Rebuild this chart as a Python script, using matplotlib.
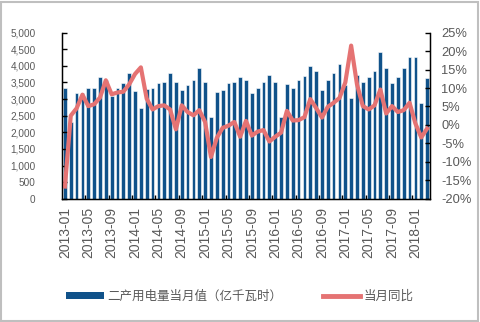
import matplotlib

matplotlib.use("Agg")
import matplotlib.pyplot as plt  # noqa: E402
import numpy as np  # noqa: E402
from matplotlib.lines import Line2D  # noqa: E402
from matplotlib.patches import Patch, Rectangle  # noqa: E402

plt.rcParams["font.family"] = ["Liberation Sans", "Noto Sans CJK SC", "DejaVu Sans"]

# ---- data ----
months = [f"{y}-{m:02d}" for y in range(2013, 2019) for m in range(1, 13)][:63]

usage = [  # 二产用电量当月值 (亿千瓦时)
    3320, 2300, 3180, 3180, 3320, 3320, 3680, 3580, 3090, 3320, 3480, 3800,
    3230, 2720, 3300, 3320, 3470, 3520, 3800, 3520, 3270, 3430, 3580, 3950,
    3530, 2460, 3220, 3270, 3480, 3530, 3680, 3580, 3180, 3320, 3530, 3730,
    3530, 2450, 3440, 3320, 3580, 3690, 4000, 3850, 3270, 3580, 3800, 4060,
    3420, 3020, 3740, 3530, 3680, 3850, 4410, 3950, 3480, 3680, 3950, 4260,
    4260, 2870, 3630,
]
yoy = [  # 当月同比 (%)
    -16.7, 2.5, 4.5, 8.2, 5.1, 5.6, 7.4, 12.1, 8.3, 8.8, 9.0, 11.0,
    13.8, 15.6, 7.1, 4.2, 5.1, 5.3, 4.2, -1.2, 5.3, 3.5, 2.6, 4.0,
    0.8, -8.7, -3.5, -0.8, -0.2, 0.8, -3.2, 1.1, -2.9, -1.8, -1.4, -4.5,
    -3.2, -2.1, 3.8, 1.2, 1.3, 2.1, 7.0, 4.6, 2.0, 4.9, 6.0, 7.3,
    11.5, 21.5, 11.0, 5.1, 4.2, 5.3, 9.6, 3.1, 5.1, 3.5, 4.0, 6.0,
    0.4, -3.4, -1.0,
]
bar_label = "二产用电量当月值（亿千瓦时）"
line_label = "当月同比"

BLUE = "#10528A"
RED = "#E57373"
GREY = "#595959"

W, H = 480, 322
fig = plt.figure(figsize=(W / 100, H / 100), dpi=100)
fig.patches.append(Rectangle((1 / W, 1 / H), 1 - 3 / W, 1 - 3 / H,
                             transform=fig.transFigure, fill=False,
                             edgecolor="#BFBFBF", lw=1.5))

ax = fig.add_axes([62 / W, 1 - 198.7 / H, (430 - 62) / W, (198.7 - 32.7) / H])
x = np.arange(len(months))
ax.bar(x, usage, width=0.64, color=BLUE, edgecolor="white", linewidth=0.4)
ax.set_xlim(-0.5, len(months) - 0.5)
ax.set_ylim(0, 5000)
ax.set_yticks(np.arange(0, 5001, 500))
ax.set_yticklabels([f"{v:,}" for v in range(0, 5001, 500)], fontsize=7.2, color=GREY)
ax.tick_params(axis="y", direction="in", length=3.5, width=1, pad=19)

ax.set_xticks(x[::4])
ax.set_xticklabels(months[::4], rotation=90, fontsize=10, color=GREY)
ax.set_xticks(x[::4][1:] - 0.5, minor=True)
ax.tick_params(axis="x", which="major", length=0, pad=6)
ax.tick_params(axis="x", which="minor", direction="in", length=3, width=1)
ax.spines["top"].set_visible(False)
for s in ("left", "bottom", "right"):
    ax.spines[s].set_linewidth(1)

ax2 = ax.twinx()
ax2.plot(x, yoy, color=RED, lw=3, solid_joinstyle="round")
ax2.set_ylim(-20, 25)
ax2.set_yticks(np.arange(-20, 26, 5))
ax2.set_yticklabels([f"{v}%" for v in range(-20, 26, 5)], fontsize=9.3, color=GREY)
ax2.tick_params(axis="y", direction="in", length=3.5, width=1, pad=8)
ax2.spines["top"].set_visible(False)

handles = [Patch(facecolor=BLUE, edgecolor="none"), Line2D([], [], color=RED, lw=3.5)]
fig.legend(handles, [bar_label, line_label], loc="center", bbox_to_anchor=(0.5, 1 - 296 / H),
           ncol=2, frameon=False, handlelength=3.0, handleheight=0.5, columnspacing=3.2,
           handletextpad=0.3, prop={"family": ["Noto Sans CJK SC", "DejaVu Sans"], "size": 9},
           labelcolor=GREY)

fig.savefig("out.png", dpi=100)
